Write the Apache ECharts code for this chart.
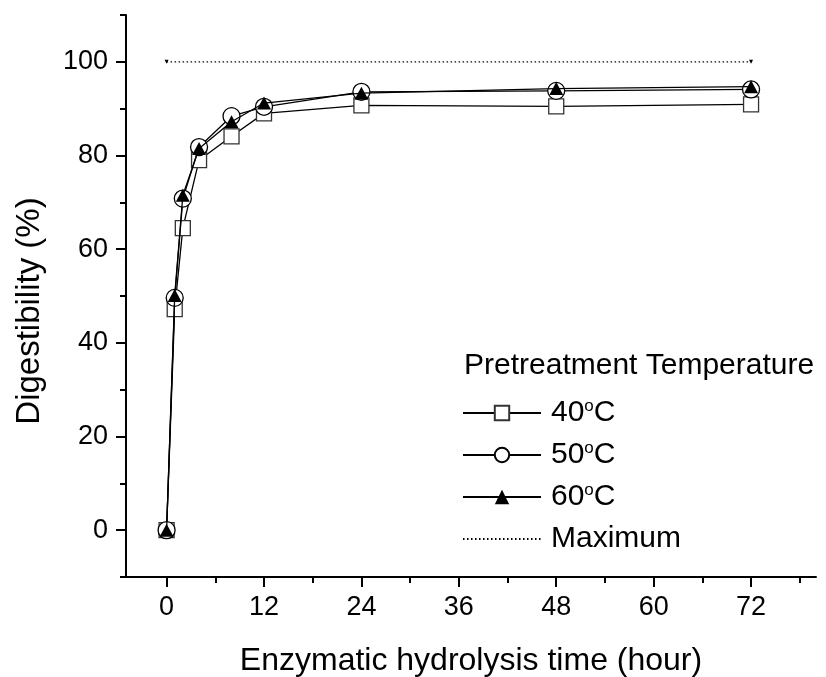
<!DOCTYPE html>
<html>
<head>
<meta charset="utf-8">
<title>Digestibility vs time</title>
<script src="https://cdn.jsdelivr.net/npm/echarts@6/dist/echarts.min.js"></script>
<style>
  html, body { margin: 0; padding: 0; background: #fff; }
  #chart { width: 826px; height: 677px; }
</style>
</head>
<body>
<div id="chart"></div>
<script>
// 읽어낸 데이터 (hour, %)
const times = [0, 1, 2, 4, 8, 12, 24, 48, 72];
const temp40 = [0, 47.2, 64.5, 79.0, 84.1, 89.0, 90.7, 90.5, 90.9];
const temp50 = [0, 49.6, 70.8, 81.8, 88.4, 90.4, 93.6, 93.8, 94.1];
const temp60 = [0, 50.1, 71.5, 81.5, 87.2, 91.2, 93.3, 94.3, 94.7];
const maxTimes = [0, 72];
const maxValues = [100, 100];

const xMajorTicks = [0, 12, 24, 36, 48, 60, 72];
const xMinorTicks = [6, 18, 30, 42, 54, 66, 78];
const yMajorTicks = [0, 20, 40, 60, 80, 100];
const yMinorTicks = [-10, 10, 30, 50, 70, 90, 110];

const FONT = "'Liberation Sans', Arial, sans-serif";

const chart = echarts.init(document.getElementById('chart'));

const pair = (xs, ys) => xs.map((x, i) => [x, ys[i]]);

// 축선은 0 위치가 아니라 그리드 가장자리에 그림
const axisLine = { show: true, onZero: false, lineStyle: { color: '#000', width: 2 } };

const option = {
    animation: false,
    textStyle: { fontFamily: FONT },
    title: {
        text: 'Pretreatment Temperature',
        left: 464,
        top: 351,
        padding: 0,
        textStyle: { fontFamily: FONT, fontSize: 30, fontWeight: 'normal', color: '#000' }
    },
    legend: {
        orient: 'vertical',
        left: 462,
        top: 398,
        padding: 0,
        itemWidth: 78,
        itemHeight: 18,
        itemGap: 12,
        data: ['40°C', '50°C', '60°C', { name: 'Maximum', itemStyle: { opacity: 0 } }],
        formatter: name => name.replace('°', '{sup|o}'),
        textStyle: {
            fontFamily: FONT,
            fontSize: 30,
            color: '#000',
            padding: [0, 0, 0, 5],
            rich: {
                sup: { fontFamily: FONT, fontSize: 17, color: '#000', verticalAlign: 'top', lineHeight: 17 }
            }
        }
    },
    grid: { left: 126, top: 15, right: 10, bottom: 100, outerBoundsMode: 'none' },
    xAxis: [{
        type: 'value',
        min: -5,
        max: 80,
        name: 'Enzymatic hydrolysis time (hour)',
        nameLocation: 'middle',
        nameGap: 68,
        nameTextStyle: { fontFamily: FONT, fontSize: 32, color: '#000' },
        axisLine: axisLine,
        axisTick: { show: true, length: 10, lineStyle: { color: '#000', width: 2 }, customValues: xMajorTicks },
        axisLabel: { fontFamily: FONT, fontSize: 27, color: '#000', margin: 17, customValues: xMajorTicks },
        splitLine: { show: false }
    }, {
        type: 'value',
        min: -5,
        max: 80,
        position: 'bottom',
        axisLine: { show: false, onZero: false },
        axisTick: { show: true, length: 6, lineStyle: { color: '#000', width: 2 }, customValues: xMinorTicks },
        axisLabel: { show: false },
        splitLine: { show: false }
    }],
    yAxis: [{
        type: 'value',
        min: -10,
        max: 110,
        name: 'Digestibility (%)',
        nameLocation: 'middle',
        nameGap: 80,
        // 오른쪽 padding으로 제목을 조금 아래로 내림
        nameTextStyle: { fontFamily: FONT, fontSize: 33, color: '#000', padding: [0, 30, 0, 0] },
        axisLine: axisLine,
        axisTick: { show: true, length: 10, lineStyle: { color: '#000', width: 2 }, customValues: yMajorTicks },
        axisLabel: { fontFamily: FONT, fontSize: 27, color: '#000', margin: 18, customValues: yMajorTicks },
        splitLine: { show: false }
    }, {
        type: 'value',
        min: -10,
        max: 110,
        position: 'left',
        axisLine: { show: false, onZero: false },
        axisTick: { show: true, length: 6, lineStyle: { color: '#000', width: 2 }, customValues: yMinorTicks },
        axisLabel: { show: false },
        splitLine: { show: false }
    }],
    series: [{
        name: '40°C',
        type: 'line',
        data: pair(times, temp40),
        symbol: 'rect',
        symbolSize: 15,
        lineStyle: { color: '#000', width: 1.3 },
        itemStyle: { color: '#fff', borderColor: '#333', borderWidth: 1.3 },
        z: 2
    }, {
        name: '50°C',
        type: 'line',
        data: pair(times, temp50),
        symbol: 'circle',
        symbolSize: 17,
        lineStyle: { color: '#000', width: 1.3 },
        itemStyle: { color: '#fff', borderColor: '#000', borderWidth: 1.3 },
        z: 3
    }, {
        name: '60°C',
        type: 'line',
        data: pair(times, temp60),
        symbol: 'triangle',
        symbolSize: [14, 13],
        lineStyle: { color: '#000', width: 1.3 },
        itemStyle: { color: '#000' },
        z: 4
    }, {
        name: 'Maximum',
        type: 'line',
        data: pair(maxTimes, maxValues),
        symbol: 'triangle',
        symbolRotate: 180,
        symbolSize: 4,
        lineStyle: { color: '#000', width: 1.2, type: [1.5, 2.5] },
        itemStyle: { color: '#000' },
        z: 1
    }]
};

chart.setOption(option);
</script>
</body>
</html>
